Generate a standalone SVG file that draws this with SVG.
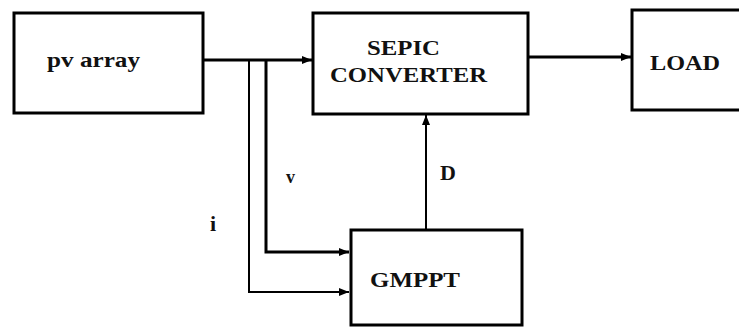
<svg xmlns="http://www.w3.org/2000/svg" width="739" height="327" viewBox="0 0 739 327">
<defs>
<style>
.box{fill:#fff;stroke:#000;stroke-width:3}
.lbl{font-family:"Liberation Serif","Times New Roman",serif;font-weight:bold;font-size:22px;fill:#111}
.ln{fill:none;stroke:#000;stroke-width:2.5}
</style>
<marker id="ah" viewBox="0 0 10 8" refX="10" refY="4" markerWidth="10" markerHeight="8" markerUnits="userSpaceOnUse" orient="auto">
<path d="M0,0 L10,4 L0,8 z" fill="#000"/>
</marker>
</defs>
<rect width="739" height="327" fill="#fff"/>
<g id="connectors">
<line class="ln" x1="203" y1="60" x2="312" y2="60" marker-end="url(#ah)" style="stroke-width:3"/>
<line class="ln" x1="528" y1="57" x2="631" y2="57" marker-end="url(#ah)" style="stroke-width:3"/>
<polyline class="ln" points="266,60 266,252 349,252" marker-end="url(#ah)" style="stroke-width:3"/>
<polyline class="ln" points="249,60 249,292 349,292" marker-end="url(#ah)" style="stroke-width:2"/>
<line class="ln" x1="426" y1="229" x2="426" y2="115" marker-end="url(#ah)" style="stroke-width:2"/>
</g>
<g id="pv-array">
<rect class="box" x="14" y="13" width="189" height="100"/>
<text class="lbl" x="47" y="67" textLength="93" lengthAdjust="spacingAndGlyphs">pv array</text>
</g>
<g id="sepic">
<rect class="box" x="313" y="13" width="215" height="101"/>
<text class="lbl" x="367" y="55" textLength="73" lengthAdjust="spacingAndGlyphs">SEPIC</text>
<text class="lbl" x="330" y="82" textLength="157" lengthAdjust="spacingAndGlyphs">CONVERTER</text>
</g>
<g id="load">
<rect class="box" x="632" y="10" width="120" height="100"/>
<text class="lbl" x="650" y="70" textLength="70" lengthAdjust="spacingAndGlyphs">LOAD</text>
</g>
<g id="gmppt">
<rect class="box" x="351" y="230" width="171" height="95"/>
<text class="lbl" x="370" y="287" textLength="90" lengthAdjust="spacingAndGlyphs">GMPPT</text>
</g>
<g id="labels">
<text class="lbl" x="286" y="183" style="font-size:18px">v</text>
<text class="lbl" x="440" y="180">D</text>
<text class="lbl" x="210" y="231">i</text>
</g>
</svg>
